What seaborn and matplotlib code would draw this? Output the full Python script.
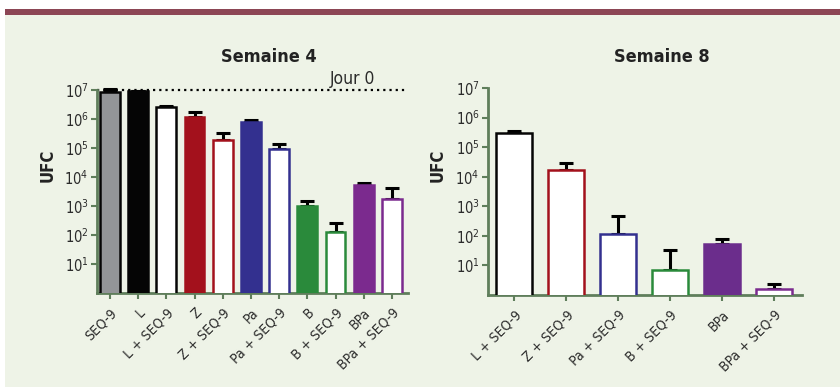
import matplotlib
matplotlib.use('Agg')
import matplotlib.pyplot as plt
from matplotlib.patches import Rectangle
import seaborn as sns
import numpy as np
import pandas as pd

# Semaine 4
labels_s4 = ['SEQ-9', 'L', 'L + SEQ-9', 'Z', 'Z + SEQ-9', 'Pa', 'Pa + SEQ-9',
             'B', 'B + SEQ-9', 'BPa', 'BPa + SEQ-9']
ufc_s4 = [8.5e6, 9.0e6, 2.5e6, 1.15e6, 1.9e5, 7.7e5, 9.5e4, 1.0e3, 1.25e2, 5.2e3, 1.7e3]
err_s4 = [1.1e7, 9.5e6, 2.8e6, 1.7e6, 3.4e5, 9.4e5, 1.37e5, 1.5e3, 2.5e2, 6.3e3, 4.2e3]
fill_s4 = ['#939598', '#050505', 'white', '#a3111c', 'white', '#33308f', 'white',
           '#2a8a3b', 'white', '#7b2a8e', 'white']
edge_s4 = ['#050505', '#050505', '#050505', '#a3111c', '#a3111c', '#33308f', '#33308f',
           '#2a8a3b', '#2a8a3b', '#7b2a8e', '#7b2a8e']

# Semaine 8
labels_s8 = ['L + SEQ-9', 'Z + SEQ-9', 'Pa + SEQ-9', 'B + SEQ-9', 'BPa', 'BPa + SEQ-9']
ufc_s8 = [2.9e5, 1.7e4, 1.2e2, 7.0, 54.0, 1.6]
err_s8 = [3.4e5, 2.8e4, 4.8e2, 33.0, 81.0, 2.3]
fill_s8 = ['white', 'white', 'white', 'white', '#6b2d8c', 'white']
edge_s8 = ['#050505', '#a3111c', '#33308f', '#2a8a3b', '#6b2d8c', '#7b2a8e']

sns.set_style('white')
plt.rcParams['font.family'] = ['DejaVu Sans']
plt.rcParams['font.stretch'] = 'condensed'
plt.rcParams['mathtext.default'] = 'regular'

BG = '#eef3e7'
AXC = '#5f7e5b'

fig = plt.figure(figsize=(8.4, 3.87), dpi=100)
fig.patch.set_facecolor('white')
fig.patches.append(Rectangle((5/840, 0), 1, 1 - 15/387, transform=fig.transFigure,
                             facecolor=BG, edgecolor='none', zorder=-10))
fig.patches.append(Rectangle((5/840, 1 - 15/387), 1, 6/387, transform=fig.transFigure,
                             facecolor='#8c4655', edgecolor='none', zorder=-10))

ax1 = fig.add_axes([97/840, 1 - 293/387, 311/840, 203/387])
ax2 = fig.add_axes([488/840, 1 - 295/387, 314/840, 207/387])


def draw(ax, labels, vals, errs, fills, edges, width, xlim, ylab_xy):
    df = pd.DataFrame({'cond': labels, 'ufc': vals})
    sns.barplot(data=df, x='cond', y='ufc', ax=ax, width=width, color='white', zorder=3)
    ax.set_yscale('log')
    for p, fc, ec in zip(ax.patches, fills, edges):
        p.set_facecolor(fc)
        p.set_edgecolor(ec)
        p.set_linewidth(1.8)
    x = np.arange(len(labels))
    v = np.array(vals)
    e = np.array(errs)
    ax.errorbar(x, v, yerr=[np.zeros_like(v), e - v], fmt='none', ecolor='black',
                elinewidth=2.2, capsize=5, capthick=2.2, zorder=2, clip_on=False)
    ax.set_facecolor('none')
    ax.set_ylim(1, 1e7)
    ax.set_xlim(*xlim)
    ax.set_yticks([10 ** k for k in range(1, 8)])
    ax.set_yticklabels([r'$10^{%d}$' % k for k in range(1, 8)], fontsize=10.5, color='#2b2b2b')
    ax.minorticks_off()
    ax.set_xticks(x)
    ax.set_xticklabels(labels, rotation=45, ha='right', rotation_mode='anchor',
                       fontsize=10, color='#2b2b2b')
    ax.tick_params(axis='both', which='both', direction='out', length=4, width=1.5,
                   color=AXC, left=True, bottom=True)
    ax.tick_params(axis='x', pad=5)
    ax.tick_params(axis='y', pad=2)
    sns.despine(ax=ax)
    for s in ['left', 'bottom']:
        ax.spines[s].set_color(AXC)
        ax.spines[s].set_linewidth(2)
    ax.set_xlabel('')
    ax.set_ylabel('UFC', fontsize=12, fontweight='bold', color='#222222')
    ax.yaxis.set_label_coords(*ylab_xy)


draw(ax1, labels_s4, ufc_s4, err_s4, fill_s4, edge_s4, 0.7, (-0.46, 10.57), (-0.13, 0.63))
draw(ax2, labels_s8, ufc_s8, err_s8, fill_s8, edge_s8, 0.68, (-0.5, 5.54), (-0.131, 0.628))

ax1.axhline(1e7, color='black', linestyle=(0, (1, 1.8)), linewidth=1.6, zorder=1,
            clip_on=False)
ax1.text(7.8, 1.15e7, 'Jour 0', fontsize=12.5, color='#2b2b2b', ha='left', va='bottom')

fig.text(269/840, 1 - 57/387, 'Semaine 4', fontsize=13, fontweight='bold',
         color='#222222', ha='center', va='center')
fig.text(662/840, 1 - 57/387, 'Semaine 8', fontsize=13, fontweight='bold',
         color='#222222', ha='center', va='center')

fig.savefig('out.png', dpi=100, facecolor=fig.get_facecolor())
